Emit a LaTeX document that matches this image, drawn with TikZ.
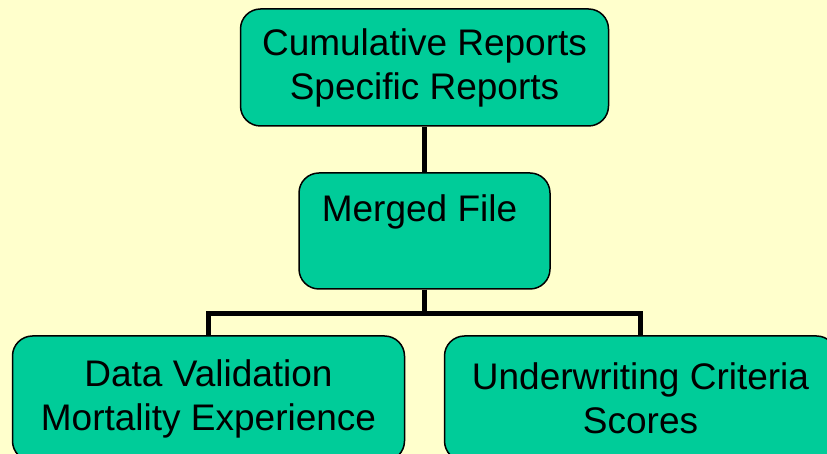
\documentclass[tikz,border=0pt]{standalone}
\usepackage{fontspec}
\setmainfont{Liberation Sans}
\usepackage{tikz}
\definecolor{paleyellow}{HTML}{FFFFCC}
\definecolor{boxgreen}{HTML}{00CC99}

\begin{document}
\begin{tikzpicture}[
        level distance=163.5pt,
        every node/.style={rectangle, rounded corners=20pt, draw, line width=1.5pt, fill=boxgreen,
            align=center, inner sep=0pt, font=\fontsize{37}{44}\selectfont},
        edge from parent/.style={draw, line width=5pt},
        edge from parent path={(\tikzparentnode.south) -- ++(0,-24pt) -| (\tikzchildnode.north)},
        level 2/.style={level distance=167.5pt, sibling distance=432pt}
        ]

        % Page and background
        \useasboundingbox (0,0) rectangle (827pt,454pt);
        \clip (0,0) rectangle (827pt,454pt);
        \fill[paleyellow] (0,0) rectangle (827pt,454pt);

        % Reports at the top
        \node (reports) at (424.5pt,386.5pt) [minimum width=368pt, minimum height=117pt]
            {Cumulative Reports\\Specific Reports}
            % Merged file
            child {node (merged) [minimum width=251pt, minimum height=116pt]
                {Merged File\hspace*{10pt}\\[-12pt]\strut}
                % Results
                child {node (validation) [minimum width=392pt, minimum height=125pt]
                    {Data Validation\\Mortality Experience}}
                child {node (underwriting) [minimum width=392pt, minimum height=125pt]
                    {Underwriting Criteria\\Scores}}
            };
    \end{tikzpicture}
\end{document}
